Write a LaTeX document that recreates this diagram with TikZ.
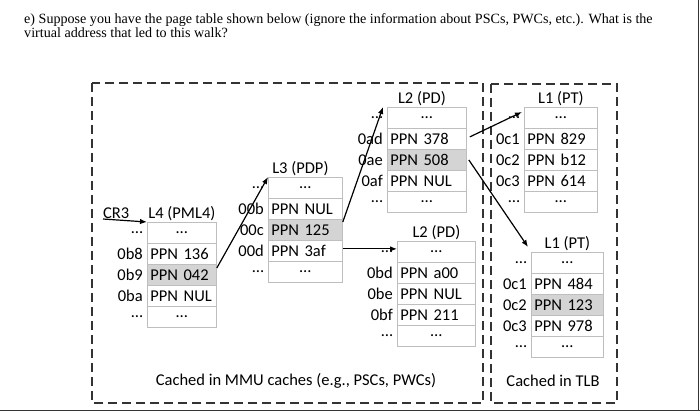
\documentclass[tikz,border=0pt]{standalone}
\usepackage{fontspec}
\setmainfont{Liberation Serif}
\newfontfamily\tabfont{Carlito}
\usepackage{tikz}
\usetikzlibrary{positioning, arrows.meta, calc}

\definecolor{cellgray}{HTML}{BEBEBE}
\definecolor{hlgray}{HTML}{D4D4D4}
\definecolor{dashgray}{HTML}{333333}

\begin{document}
\begin{tikzpicture}[
  x=1pt, y=-1pt,
  font=\tabfont\fontsize{16.5}{18}\selectfont,
  cell/.style={draw=cellgray, line width=0.8pt, anchor=north west,
    minimum height=21pt, inner xsep=3pt, inner ysep=0pt,
    text width=\colw, align=left},
  hcell/.style={cell, fill=hlgray},
  dcell/.style={cell, align=center},
  idx/.style={anchor=east, inner sep=0pt, xshift=-4pt},
  ttl/.style={anchor=south, inner sep=1pt},
  cache/.style={draw=dashgray, line width=1.4pt, dash pattern=on 9pt off 5pt},
  arrow/.style={-{Latex[length=7pt,width=5.5pt]}, line width=1.2pt},
  qtext/.style={anchor=base west, inner sep=0pt,
    font=\rmfamily\fontsize{14.1}{16}\selectfont},
]
  \useasboundingbox (0,0) rectangle (700,411);

  % Question text
  \node[qtext] (q1) at (24,24) {e) Suppose you have the page table shown below (ignore the information about PSCs, PWCs, etc.). What is the};
  \node[qtext] (q2) at (24,38) {virtual address that led to this walk?};

  % Cache regions
  \draw[cache] (92,83) rectangle (483,403);
  \draw[cache] (491,84) rectangle (617,403);
  \node (mmu) at (296,381) {Cached in MMU caches (e.g., PSCs, PWCs)};
  \node (tlb) at (553,381) {Cached in TLB};

  % L4 (PML4)
  \def\colw{63pt}
  \foreach \k/\id/\t/\st in {0/…/…/dcell, 1/0b8/PPN 136/cell, 2/0b9/PPN 042/hcell,
                              3/0ba/PPN NUL/cell, 4/…/…/dcell} {
    \node[\st] (l4r\k) at (147, {222+21*\k}) {\t};
    \node[idx] at (l4r\k.west) {\id};
  }
  \node[ttl] (l4t) at (l4r0.north) {L4 (PML4)};
  \node[anchor=south west, inner sep=0pt] (cr3) at (103,219) {CR3};

  % L3 (PDP)
  \def\colw{68pt}
  \foreach \k/\id/\t/\st in {0/…/…/dcell, 1/00b/PPN NUL/cell, 2/00c/PPN 125/hcell,
                              3/00d/PPN 3af/cell, 4/…/…/dcell} {
    \node[\st] (l3r\k) at (268, {177+21*\k}) {\t};
    \node[idx] at (l3r\k.west) {\id};
  }
  \node[ttl, xshift=-5pt] (l3t) at (l3r0.north) {L3 (PDP)};

  % L2 (PD), upper
  \def\colw{73pt}
  \foreach \k/\id/\t/\st in {0/…/…/dcell, 1/0ad/PPN 378/cell, 2/0ae/PPN 508/hcell,
                              3/0af/PPN NUL/cell, 4/…/…/dcell} {
    \node[\st] (l2ar\k) at (387, {107+21*\k}) {\t};
    \node[idx] at (l2ar\k.west) {\id};
  }
  \node[ttl, xshift=-5pt] (l2at) at (l2ar0.north) {L2 (PD)};

  % L2 (PD), lower
  \def\colw{72pt}
  \foreach \k/\id/\t/\st in {0/…/…/dcell, 1/0bd/PPN a00/cell, 2/0be/PPN NUL/cell,
                              3/0bf/PPN 211/cell, 4/…/…/dcell} {
    \node[\st] (l2br\k) at (397, {241+21*\k}) {\t};
    \node[idx] at (l2br\k.west) {\id};
  }
  \node[ttl] (l2bt) at (l2br0.north) {L2 (PD)};

  % L1 (PT), upper
  \def\colw{67pt}
  \foreach \k/\id/\t/\st in {0/…/…/dcell, 1/0c1/PPN 829/cell, 2/0c2/PPN b12/cell,
                              3/0c3/PPN 614/cell, 4/…/…/dcell} {
    \node[\st] (l1ar\k) at (524, {107+21*\k}) {\t};
    \node[idx] at (l1ar\k.west) {\id};
  }
  \node[ttl] (l1at) at (l1ar0.north) {L1 (PT)};

  % L1 (PT), lower
  \def\colw{66pt}
  \foreach \k/\id/\t/\st in {0/…/…/dcell, 1/0c1/PPN 484/cell, 2/0c2/PPN 123/hcell,
                              3/0c3/PPN 978/cell, 4/…/…/dcell} {
    \node[\st] (l1br\k) at (531, {252+21*\k}) {\t};
    \node[idx] at (l1br\k.west) {\id};
  }
  \node[ttl] (l1bt) at (l1br0.north) {L1 (PT)};

  % Walk arrows
  \draw[arrow] (cr3.south west) -- (l4r0.north west);
  \draw[arrow] ([yshift=-4pt]l4r2.north east) -- (l3r0.north west);
  \draw[arrow] ([yshift=-3pt]l3r2.north east) -- ([xshift=-4pt]l2ar0.north west);
  \draw[arrow] ([yshift=2pt]l3r3.east) -- ([yshift=2pt]l3r3.east -| l2br0.west);
  \draw[arrow] ([xshift=3pt,yshift=2pt]l2ar1.east) -- ([xshift=-2pt,yshift=-5pt]l1ar0.north west);
  \draw[arrow] ([xshift=2pt]l2ar2.east) -- ([xshift=-3pt,yshift=5pt]l1br0.north west);

  % Screenshot edge
  \draw[dashgray, line width=1pt] (698.5,0) -- (698.5,411);
  \draw[dashgray, line width=1pt] (0,410.5) -- (700,410.5);
\end{tikzpicture}
\end{document}
